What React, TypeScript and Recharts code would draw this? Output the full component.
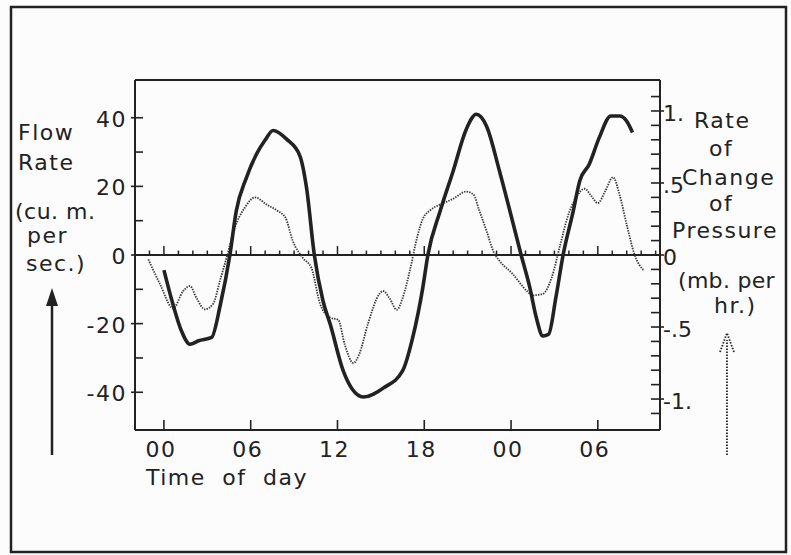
import { ComposedChart, Line, XAxis, YAxis, ReferenceLine } from 'recharts';

const INK = '#222';
const FONT = '"DejaVu Sans", sans-serif';

// solid curve: flow rate (cu. m per sec), hours from 00 of day 1
const flowHours = [0, 0.6, 1.2, 1.8, 2.4, 3.3, 3.9, 4.56, 5.0, 5.7, 6.4, 7.0, 7.55, 8.5, 9.4, 9.86, 10.4, 11.0, 11.5, 12.4, 13.0, 13.8, 15.2, 16.5, 17.2, 17.9, 18.25, 19.1, 20.0, 20.9, 21.6, 22.3, 23.2, 24.1, 24.7, 25.3, 25.75, 26.2, 26.6, 27.1, 27.6, 28.3, 28.75, 29.4, 30.1, 30.9, 31.5, 32.0, 32.4];
const flowRate = [-4.4, -14, -22, -26, -25, -24, -14.5, 0, 12.8, 22.5, 29.4, 33.5, 36.3, 33.7, 28.9, 19.6, 0, -13.4, -20.2, -33.8, -39, -41.4, -38.7, -33.8, -24.1, -9.5, 0, 12.8, 24.5, 36.6, 41, 37.6, 24.5, 9.9, 0, -9.5, -18.3, -23.6, -23.1, -12.4, 0, 12.8, 21.6, 26.4, 34.2, 40.5, 40.5, 39, 35.7];

// dotted curve: rate of change of pressure (mb per hr)
const pressureHours = [-1.08, -0.28, 0.64, 1.33, 1.8, 2.26, 2.83, 3.4, 3.87, 4.33, 4.9, 5.6, 6.3, 7.1, 7.8, 8.4, 8.9, 9.6, 10.2, 10.8, 11.5, 12.05, 12.5, 13.1, 13.5, 14.1, 14.9, 15.15, 15.6, 16.1, 16.5, 17.0, 17.5, 17.9, 18.4, 19.1, 20.0, 20.9, 21.4, 21.8, 22.3, 22.8, 23.2, 24.1, 25.1, 25.5, 26.2, 26.8, 27.4, 27.9, 28.5, 29.1, 29.55, 30.0, 30.5, 31.05, 31.5, 32.0, 32.55, 33.2];
const pressureRate = [-0.03, -0.2, -0.37, -0.25, -0.215, -0.3, -0.377, -0.34, -0.18, -0.02, 0.19, 0.33, 0.4, 0.35, 0.31, 0.26, 0.1, -0.02, -0.09, -0.34, -0.435, -0.45, -0.62, -0.75, -0.69, -0.48, -0.27, -0.25, -0.3, -0.38, -0.3, -0.11, 0.12, 0.25, 0.31, 0.35, 0.39, 0.44, 0.42, 0.31, 0.17, 0.02, -0.04, -0.13, -0.25, -0.28, -0.27, -0.16, 0.07, 0.26, 0.4, 0.46, 0.41, 0.36, 0.44, 0.54, 0.42, 0.21, 0, -0.11];

const hourTicks = [0, 6, 12, 18, 24, 30];
const hourLabels = ['00', '06', '12', '18', '00', '06'];
const zeroLineHours = [-1, 0, 1, 2, 3, 4, 5, 6, 7, 8, 9, 10, 11, 12, 13, 14, 15, 16, 17, 18, 19, 20, 21, 22, 23, 24, 25, 26, 27, 28, 29, 30, 31, 32, 33, 34];
const flowTicks = [-40, -30, -20, -10, 0, 10, 20, 30, 40];
const flowLabels = ['-40', '', '-20', '', '0', '', '20', '', '40'];
const pressureTicks = [-1.1, -1, -0.9, -0.8, -0.7, -0.6, -0.5, -0.4, -0.3, -0.2, -0.1, 0, 0.1, 0.2, 0.3, 0.4, 0.5, 0.6, 0.7, 0.8, 0.9, 1, 1.1];
const pressureLabels = ['', '-1.', '', '', '', '', '-.5', '', '', '', '', '0', '', '', '', '', '.5', '', '', '', '', '1.', ''];

const X_DOMAIN = [-2, 34.3];
const FLOW_DOMAIN = [-51, 51];
const PRESSURE_DOMAIN = [-1.215, 1.215];

const flowData = flowHours.map((h, i) => ({ h, v: flowRate[i] }));
const pressureData = pressureHours.map((h, i) => ({ h, v: pressureRate[i] }));

const txt = { fontFamily: FONT, fontSize: 22, fill: INK, letterSpacing: 1.5 };

function HourTick({ x, y, payload }: any) {
  const i = hourTicks.indexOf(payload.value);
  return (
    <g>
      <line x1={x} x2={x} y1={y} y2={y - 10} stroke={INK} strokeWidth={1.6} />
      <text x={x - 3} y={y + 27} textAnchor="middle" {...txt}>{hourLabels[i]}</text>
    </g>
  );
}

function FlowTick({ x, y, payload }: any) {
  const label = flowLabels[flowTicks.indexOf(payload.value)];
  return (
    <g>
      <line x1={label ? x - 4 : x} x2={x + 8} y1={y} y2={y} stroke={INK} strokeWidth={1.6} />
      {label && <text x={x - 8} y={y + 9} textAnchor="end" {...txt}>{label}</text>}
    </g>
  );
}

function PressureTick({ x, y, payload }: any) {
  const idx = pressureTicks.findIndex((t) => Math.abs(t - payload.value) < 1e-6);
  const label = pressureLabels[idx];
  return (
    <g>
      <line x1={x - 9} x2={label ? x + 4 : x} y1={y} y2={y} stroke={INK} strokeWidth={1.6} />
      {label && <text x={x + 3} y={y + 10} textAnchor="start" {...txt} letterSpacing={0}>{label}</text>}
    </g>
  );
}

function Overlay() {
  return (
    <svg width={791} height={555} style={{ position: 'absolute', left: 0, top: 0, pointerEvents: 'none' }}>
      <rect x={11} y={7} width={775} height={545} fill="none" stroke={INK} strokeWidth={2.5} />
      <g {...txt}>
        <text x={18} y={140}>Flow</text>
        <text x={18} y={170}>Rate</text>
        <text x={15} y={219} letterSpacing={0.5}>(cu. m.</text>
        <text x={27} y={243}>per</text>
        <text x={26} y={271}>sec.)</text>
        <text x={694} y={128}>Rate</text>
        <text x={709} y={156}>of</text>
        <text x={682} y={185}>Change</text>
        <text x={709} y={211}>of</text>
        <text x={672} y={238}>Pressure</text>
        <text x={678} y={288} letterSpacing={0.3}>(mb. per</text>
        <text x={714} y={313}>hr.)</text>
        <text x={146} y={485} wordSpacing={8}>Time of day</text>
      </g>
      <line x1={52} x2={52} y1={455} y2={300} stroke={INK} strokeWidth={2.5} />
      <polygon points="52,288 46,306 58,306" fill={INK} />
      <line x1={727} x2={727} y1={455} y2={340} stroke={INK} strokeWidth={1.8} strokeDasharray="1.5 1.5" />
      <polyline points="720,352 727,333 734,352" fill="none" stroke={INK} strokeWidth={1.8} strokeDasharray="1.5 1.5" />
    </svg>
  );
}

export default function App() {
  return (
    <div style={{ position: 'absolute', left: 0, top: 0, width: 791, height: 555, background: '#fcfcfc' }}>
      <ComposedChart width={791} height={555} margin={{ top: 80, right: 0, bottom: 0, left: 0 }}>
        <XAxis
          xAxisId="t"
          dataKey="h"
          type="number"
          domain={X_DOMAIN}
          ticks={hourTicks}
          interval={0}
          allowDataOverflow
          height={125}
          tickSize={0}
          tickMargin={0}
          tickLine={false}
          axisLine={{ stroke: INK, strokeWidth: 2 }}
          tick={<HourTick />}
        />
        <YAxis
          yAxisId="flow"
          type="number"
          domain={FLOW_DOMAIN}
          ticks={flowTicks}
          interval={0}
          allowDataOverflow
          width={135}
          tickSize={0}
          tickMargin={0}
          tickLine={false}
          axisLine={{ stroke: INK, strokeWidth: 2 }}
          tick={<FlowTick />}
        />
        <YAxis
          yAxisId="pressure"
          orientation="right"
          type="number"
          domain={PRESSURE_DOMAIN}
          ticks={pressureTicks}
          interval={0}
          allowDataOverflow
          width={131}
          tickSize={0}
          tickMargin={0}
          tickLine={false}
          axisLine={{ stroke: INK, strokeWidth: 2 }}
          tick={<PressureTick />}
        />
        <ReferenceLine xAxisId="t" yAxisId="flow" y={FLOW_DOMAIN[1]} stroke={INK} strokeWidth={2} />
        <ReferenceLine xAxisId="t" yAxisId="flow" y={0} stroke={INK} strokeWidth={1.8} />
        {zeroLineHours.map((h) => (
          <ReferenceLine
            key={h}
            xAxisId="t"
            yAxisId="flow"
            segment={[{ x: h, y: 0 }, { x: h, y: h % 6 === 0 ? 2.6 : 1.3 }]}
            stroke={INK}
            strokeWidth={1.5}
          />
        ))}
        <Line
          xAxisId="t"
          yAxisId="pressure"
          data={pressureData}
          dataKey="v"
          type="monotone"
          stroke="#333"
          strokeWidth={1.8}
          strokeDasharray="1.4 1.2"
          dot={false}
          isAnimationActive={false}
        />
        <Line
          xAxisId="t"
          yAxisId="flow"
          data={flowData}
          dataKey="v"
          type="monotone"
          stroke={INK}
          strokeWidth={3.6}
          dot={false}
          isAnimationActive={false}
        />
      </ComposedChart>
      <Overlay />
    </div>
  );
}
